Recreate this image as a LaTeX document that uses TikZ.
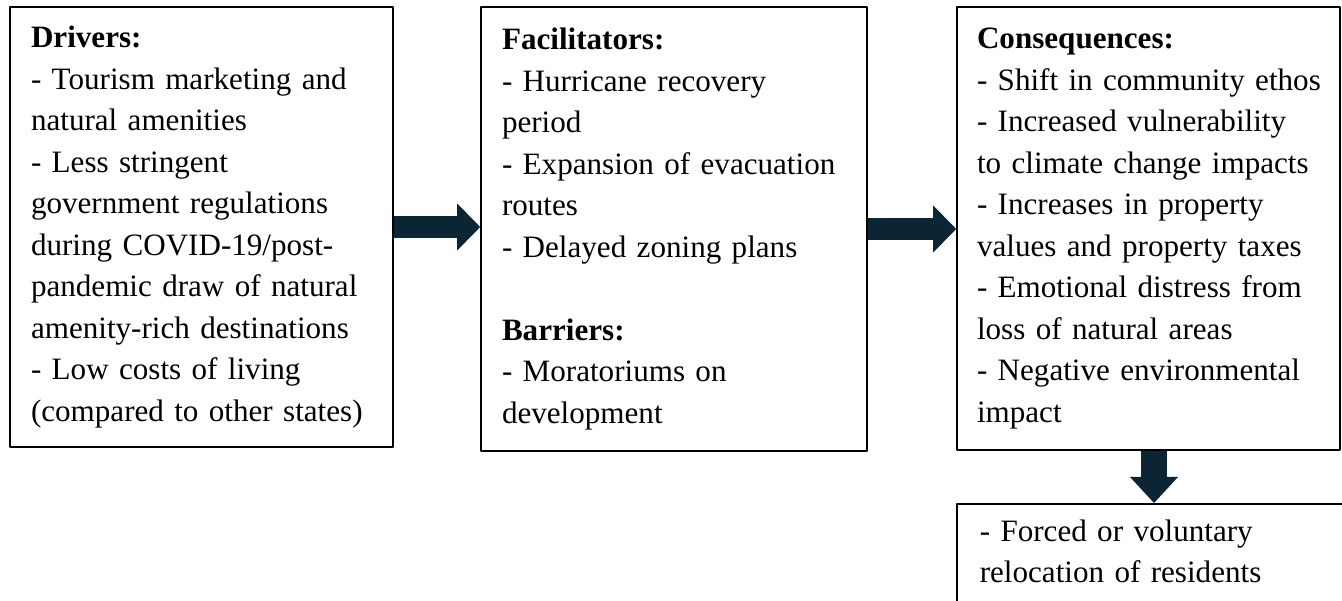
\documentclass[tikz,border=0pt]{standalone}
\usepackage{fontspec}
\setmainfont{Liberation Serif}
\usetikzlibrary{arrows.meta}
\definecolor{arrowblue}{RGB}{12,37,53}
\begin{document}
\begin{tikzpicture}[>=latex,line join=bevel,
  box/.style={draw=black,line width=1.6bp,align=left,inner xsep=21bp,inner ysep=0bp,
    text width=341bp,font=\fontsize{31.1bp}{41.5bp}\selectfont},
  flowarrow/.style={draw=arrowblue,line width=21.5bp,
    -{Triangle[length=23bp,width=47bp,line width=0bp,color=arrowblue]}},
  downarrow/.style={draw=arrowblue,line width=26bp,
    -{Triangle[length=26bp,width=48bp,line width=0bp,color=arrowblue]}},
]
\useasboundingbox (0bp,0bp) rectangle (1342bp,601bp);
%%
\node (drivers) at (201.5bp,374bp) [box,minimum height=440bp] {\textbf{Drivers:}\\
- Tourism marketing and\\ natural amenities\\
- Less stringent\\ government regulations\\ during COVID-19/post-\\ pandemic draw of natural\\ amenity-rich destinations\\
- Low costs of living\\ (compared to other states)};
  \node (facil) at (674bp,372bp) [box,minimum height=444bp,text width=344bp] {\textbf{Facilitators:}\\
- Hurricane recovery\\ period\\
- Expansion of evacuation\\ routes\\
- Delayed zoning plans\\[41.5bp]
\textbf{Barriers:}\\
- Moratoriums on\\ development};
  \node (conseq) at (1148.5bp,372.5bp) [box,minimum height=443bp,inner xsep=20bp,text width=343bp] {\textbf{Consequences:}\\
\mbox{- Shift in community ethos}\\
- Increased vulnerability\\ to climate change impacts\\
- Increases in property\\ values and property taxes\\
- Emotional distress from\\ loss of natural areas\\
- Negative environmental\\ impact};
  \node (reloc) at (956bp,98bp) [box,anchor=north west,inner xsep=23bp,inner ysep=16bp,text width=400bp,text depth=60bp] {- Forced or voluntary\\ relocation of residents};
%
  \draw [flowarrow] (drivers.east) -- (drivers.east -| facil.west);
  \draw [flowarrow] (facil.east) -- (facil.east -| conseq.west);
  \draw [downarrow] ([xshift=5.5bp]conseq.south) -- ([xshift=5.5bp]conseq.south |- reloc.north);
%
\end{tikzpicture}
\end{document}
